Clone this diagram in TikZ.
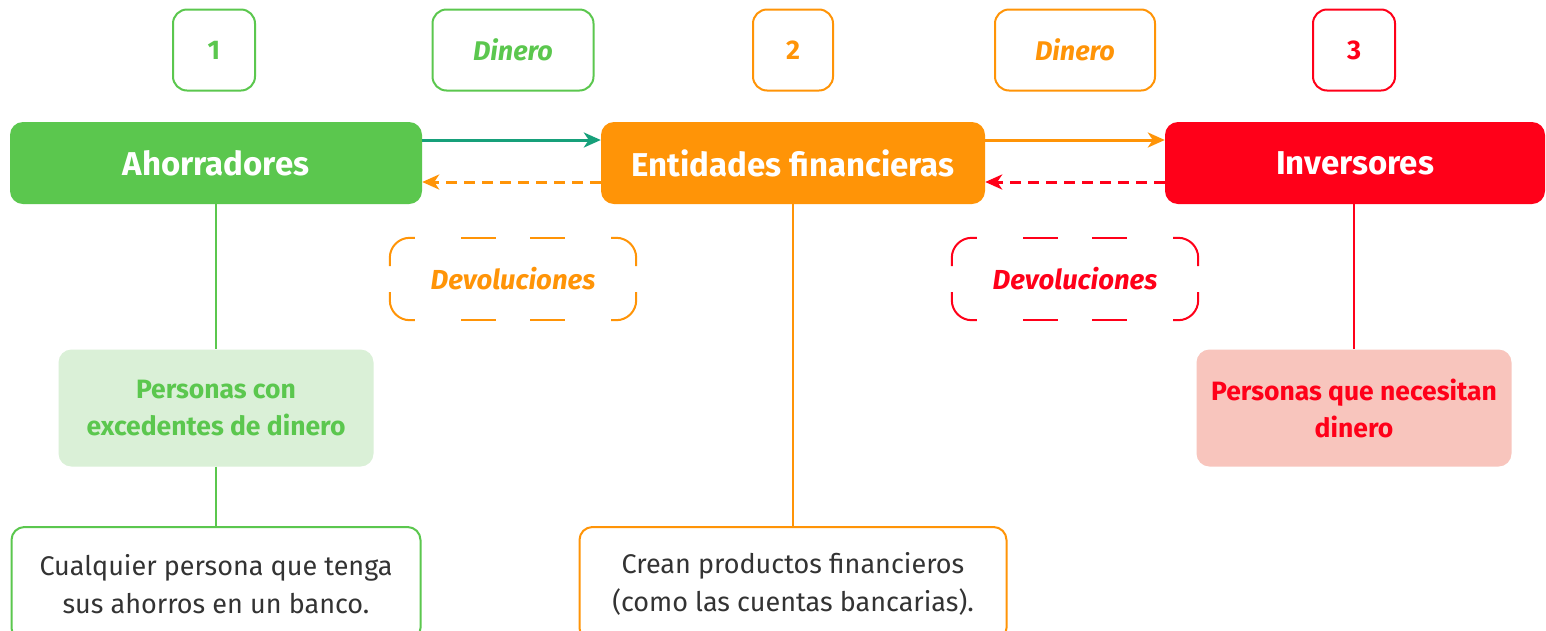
\documentclass[tikz,border=0pt]{standalone}
\usepackage{fontspec}
\setmainfont{Fira Sans}
\usetikzlibrary{arrows.meta}
\definecolor{cgreen}{HTML}{5BC74E}
\definecolor{corange}{HTML}{FF9407}
\definecolor{cred}{HTML}{FF0019}
\definecolor{cteal}{HTML}{16A07A}
\definecolor{clgreen}{HTML}{DAF0D7}
\definecolor{cpink}{HTML}{F8C5BD}
\definecolor{ctext}{HTML}{333333}
\tikzset{
  tagbox/.style={draw=#1, line width=2pt, rounded corners=14pt, text=#1, font=\fontsize{27}{30}\selectfont\bfseries, minimum height=81pt, inner sep=0pt},
  mainbox/.style={fill=#1, rounded corners=13pt, text=white, font=\fontsize{33}{36}\selectfont\bfseries, minimum height=82pt, inner sep=0pt},
  devbox/.style={text=#1, font=\fontsize{27.5}{30}\selectfont\bfseries\itshape, minimum width=246pt, minimum height=82pt, inner sep=0pt},
  devline/.style={draw=#1, line width=2pt, rounded corners=20pt},
  descbox/.style={fill=#1, rounded corners=13pt, font=\fontsize{26.5}{37}\selectfont\bfseries, minimum height=117pt, minimum width=315pt, inner sep=0pt, align=center},
  botbox/.style={draw=#1, line width=2pt, rounded corners=13pt, fill=white, text=ctext, font=\fontsize{27}{38}\selectfont, minimum height=114pt, inner sep=0pt, align=center},
  conn/.style={draw=#1, line width=2pt},
  arr/.style={draw=#1, line width=3pt, -{Stealth[length=17pt,width=15pt,inset=5pt]}},
  darr/.style={draw=#1, line width=3pt, dash pattern=on 11pt off 7pt, -{Stealth[length=17pt,width=15pt,inset=5pt]}}
}
\begin{document}
\begin{tikzpicture}[x=1pt,y=-1pt]
\clip (0,0) rectangle (1546,630);
\fill[white] (0,0) rectangle (1546,630);
\useasboundingbox (0,0) rectangle (1546,630);
% top tags
\node[tagbox=cgreen, minimum width=82pt] (t1) at (214,50) {1};
\node[tagbox=cgreen, minimum width=161pt, font=\fontsize{27}{30}\selectfont\bfseries\itshape] (d1) at (513,50) {Dinero};
\node[tagbox=corange, minimum width=80pt] (t2) at (793,50) {2};
\node[tagbox=corange, minimum width=160pt, font=\fontsize{27}{30}\selectfont\bfseries\itshape] (d2) at (1075,50) {Dinero};
\node[tagbox=cred, minimum width=82pt] (t3) at (1354,50) {3};
% main boxes
\node[mainbox=cgreen, minimum width=412pt] (ah) at (216,163) {Ahorradores};
\node[mainbox=corange, minimum width=384pt] (en) at (793,163) {Entidades financieras};
\node[mainbox=cred, minimum width=380pt] (in) at (1355,163) {Inversores};
% arrows
\draw[arr=cteal] ([yshift=23pt]ah.east) -- ([yshift=23pt]en.west);
\draw[darr=corange] ([yshift=-19pt]en.west) -- ([yshift=-19pt]ah.east);
\draw[arr=corange] ([yshift=23pt]en.east) -- ([yshift=23pt]in.west);
\draw[darr=cred] ([yshift=-19pt]in.west) -- ([yshift=-19pt]en.east);
% devoluciones
\node[devbox=corange] (v1) at (513,279) {Devoluciones};
\node[devbox=cred] (v2) at (1075,279) {Devoluciones};
\foreach \n/\c in {v1/corange, v2/cred}{
  \draw[devline=\c] ([yshift=13pt]\n.west) -- (\n.north west) -- ([xshift=25pt]\n.north west);
  \draw[devline=\c] ([yshift=13pt]\n.east) -- (\n.north east) -- ([xshift=-25pt]\n.north east);
  \draw[devline=\c] ([yshift=-13pt]\n.west) -- (\n.south west) -- ([xshift=25pt]\n.south west);
  \draw[devline=\c] ([yshift=-13pt]\n.east) -- (\n.south east) -- ([xshift=-25pt]\n.south east);
  \draw[devline=\c] ([xshift=-52pt]\n.north) -- ([xshift=-17pt]\n.north);
  \draw[devline=\c] ([xshift=17pt]\n.north) -- ([xshift=52pt]\n.north);
  \draw[devline=\c] ([xshift=-52pt]\n.south) -- ([xshift=-17pt]\n.south);
  \draw[devline=\c] ([xshift=17pt]\n.south) -- ([xshift=52pt]\n.south);
}
% description boxes
\node[descbox=clgreen, text=cgreen] (p1) at (216,408) {Personas con\\excedentes de dinero};
\node[descbox=cpink, text=cred] (p3) at (1354,408) {Personas que necesitan\\dinero};
\node[botbox=cgreen, minimum width=409pt] (b1) at (216,584) {Cualquier persona que tenga\\sus ahorros en un banco.};
\node[botbox=corange, minimum width=427pt] (b2) at (793,584) {Crean productos financieros\\(como las cuentas bancarias).};
% connectors
\draw[conn=cgreen] (ah.south) -- (p1.north);
\draw[conn=cgreen] (p1.south) -- (b1.north);
\draw[conn=corange] (en.south) -- (b2.north);
\draw[conn=cred] (in.south -| p3.north) -- (p3.north);
\end{tikzpicture}
\end{document}
